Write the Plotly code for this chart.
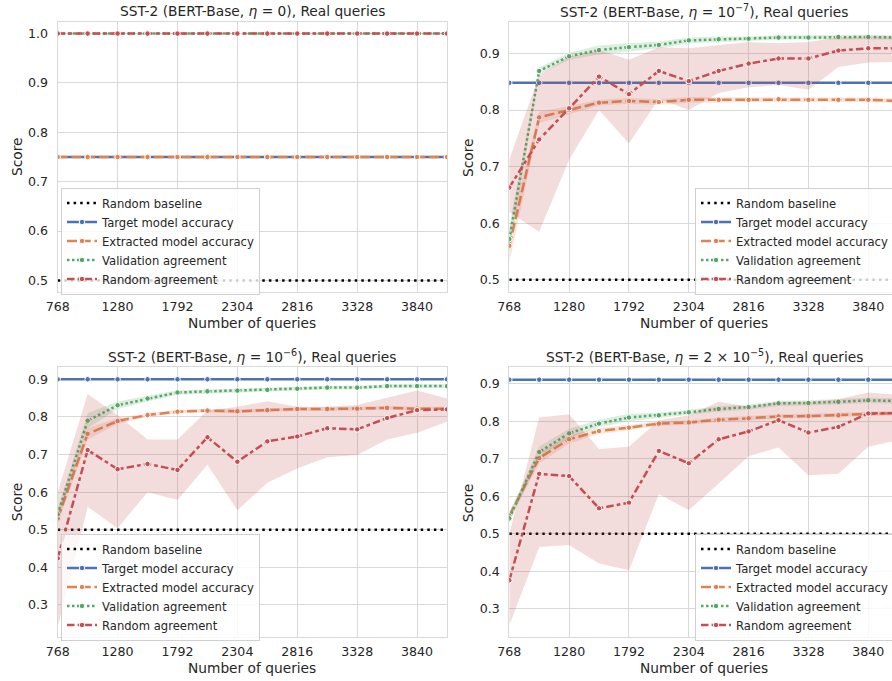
import plotly.graph_objects as go

# ---------------- data ----------------
queries = [768, 1024, 1280, 1536, 1792, 2048, 2304, 2560, 2816, 3072, 3328, 3584, 3840, 4096]
x_ticks = [768, 1280, 1792, 2304, 2816, 3328, 3840]

baseline = [0.5, 0.5, 0.5, 0.5, 0.5, 0.5, 0.5, 0.5, 0.5, 0.5, 0.5, 0.5, 0.5, 0.5]

# Panel 1: eta = 0
p1_target = [0.75, 0.75, 0.75, 0.75, 0.75, 0.75, 0.75, 0.75, 0.75, 0.75, 0.75, 0.75, 0.75, 0.75]
p1_extracted = [0.75, 0.75, 0.75, 0.75, 0.75, 0.75, 0.75, 0.75, 0.75, 0.75, 0.75, 0.75, 0.75, 0.75]
p1_valid = [1.0, 1.0, 1.0, 1.0, 1.0, 1.0, 1.0, 1.0, 1.0, 1.0, 1.0, 1.0, 1.0, 1.0]
p1_random = [1.0, 1.0, 1.0, 1.0, 1.0, 1.0, 1.0, 1.0, 1.0, 1.0, 1.0, 1.0, 1.0, 1.0]

# Panel 2: eta = 1e-7
p2_target = [0.848, 0.848, 0.848, 0.848, 0.848, 0.848, 0.848, 0.848, 0.848, 0.848, 0.848, 0.848, 0.848, 0.848]
p2_extracted = [0.560, 0.787, 0.800, 0.813, 0.816, 0.814, 0.818, 0.818, 0.818, 0.819, 0.818, 0.818, 0.818, 0.816]
p2_extracted_lo = [0.530, 0.777, 0.793, 0.808, 0.811, 0.809, 0.813, 0.813, 0.814, 0.815, 0.814, 0.814, 0.814, 0.812]
p2_extracted_hi = [0.590, 0.797, 0.807, 0.818, 0.821, 0.819, 0.823, 0.823, 0.822, 0.823, 0.822, 0.822, 0.822, 0.820]
p2_valid = [0.572, 0.869, 0.895, 0.906, 0.911, 0.915, 0.923, 0.925, 0.926, 0.928, 0.928, 0.929, 0.929, 0.928]
p2_valid_lo = [0.550, 0.863, 0.889, 0.898, 0.904, 0.909, 0.918, 0.920, 0.922, 0.924, 0.924, 0.925, 0.925, 0.924]
p2_valid_hi = [0.594, 0.875, 0.901, 0.914, 0.918, 0.921, 0.928, 0.930, 0.930, 0.932, 0.932, 0.933, 0.933, 0.932]
p2_random = [0.663, 0.748, 0.803, 0.859, 0.828, 0.869, 0.851, 0.869, 0.882, 0.891, 0.891, 0.905, 0.909, 0.909]
p2_random_lo = [0.620, 0.585, 0.712, 0.800, 0.741, 0.820, 0.800, 0.830, 0.840, 0.844, 0.836, 0.876, 0.884, 0.885]
p2_random_hi = [0.712, 0.862, 0.894, 0.906, 0.889, 0.911, 0.909, 0.915, 0.920, 0.918, 0.920, 0.928, 0.930, 0.930]

# Panel 3: eta = 1e-6
p3_target = [0.90, 0.90, 0.90, 0.90, 0.90, 0.90, 0.90, 0.90, 0.90, 0.90, 0.90, 0.90, 0.90, 0.90]
p3_extracted = [0.530, 0.755, 0.789, 0.805, 0.814, 0.817, 0.815, 0.818, 0.821, 0.821, 0.822, 0.824, 0.822, 0.822]
p3_extracted_lo = [0.515, 0.740, 0.781, 0.800, 0.809, 0.812, 0.810, 0.813, 0.816, 0.816, 0.817, 0.819, 0.817, 0.817]
p3_extracted_hi = [0.545, 0.770, 0.797, 0.810, 0.819, 0.822, 0.820, 0.823, 0.826, 0.826, 0.827, 0.829, 0.827, 0.827]
p3_valid = [0.541, 0.790, 0.831, 0.849, 0.865, 0.868, 0.870, 0.872, 0.875, 0.878, 0.878, 0.882, 0.882, 0.882]
p3_valid_lo = [0.526, 0.770, 0.821, 0.841, 0.859, 0.863, 0.865, 0.867, 0.870, 0.873, 0.873, 0.877, 0.877, 0.877]
p3_valid_hi = [0.556, 0.810, 0.841, 0.857, 0.871, 0.873, 0.875, 0.877, 0.880, 0.883, 0.883, 0.887, 0.887, 0.887]
p3_random = [0.424, 0.712, 0.661, 0.675, 0.659, 0.746, 0.681, 0.735, 0.748, 0.770, 0.767, 0.797, 0.818, 0.820]
p3_random_lo = [0.242, 0.561, 0.504, 0.600, 0.579, 0.673, 0.552, 0.625, 0.663, 0.693, 0.699, 0.740, 0.758, 0.787]
p3_random_hi = [0.600, 0.861, 0.805, 0.740, 0.740, 0.817, 0.827, 0.842, 0.827, 0.827, 0.832, 0.852, 0.870, 0.849]

# Panel 4: eta = 2e-5
p4_target = [0.911, 0.911, 0.911, 0.911, 0.911, 0.911, 0.911, 0.911, 0.911, 0.911, 0.911, 0.911, 0.911, 0.911]
p4_extracted = [0.548, 0.702, 0.752, 0.774, 0.783, 0.794, 0.797, 0.804, 0.808, 0.813, 0.814, 0.816, 0.820, 0.822]
p4_extracted_lo = [0.535, 0.688, 0.741, 0.766, 0.776, 0.788, 0.791, 0.798, 0.802, 0.807, 0.808, 0.810, 0.814, 0.816]
p4_extracted_hi = [0.561, 0.716, 0.763, 0.782, 0.790, 0.800, 0.803, 0.810, 0.814, 0.819, 0.820, 0.822, 0.826, 0.828]
p4_valid = [0.541, 0.718, 0.768, 0.794, 0.810, 0.816, 0.824, 0.833, 0.838, 0.848, 0.849, 0.852, 0.856, 0.854]
p4_valid_lo = [0.530, 0.703, 0.756, 0.784, 0.800, 0.809, 0.817, 0.826, 0.831, 0.841, 0.842, 0.845, 0.849, 0.847]
p4_valid_hi = [0.552, 0.733, 0.780, 0.804, 0.820, 0.823, 0.831, 0.840, 0.845, 0.855, 0.856, 0.859, 0.863, 0.861]
p4_random = [0.376, 0.660, 0.654, 0.568, 0.583, 0.721, 0.688, 0.752, 0.773, 0.803, 0.770, 0.785, 0.821, 0.822]
p4_random_lo = [0.256, 0.465, 0.470, 0.421, 0.403, 0.606, 0.563, 0.634, 0.707, 0.730, 0.656, 0.660, 0.732, 0.750]
p4_random_hi = [0.500, 0.810, 0.819, 0.726, 0.732, 0.803, 0.816, 0.852, 0.839, 0.852, 0.852, 0.859, 0.877, 0.870]

titles = [
    "SST-2 (BERT-Base, <i>η</i> = 0), Real queries",
    "SST-2 (BERT-Base, <i>η</i> = 10<sup>−7</sup>), Real queries",
    "SST-2 (BERT-Base, <i>η</i> = 10<sup>−6</sup>), Real queries",
    "SST-2 (BERT-Base, <i>η</i> = 2 × 10<sup>−5</sup>), Real queries",
]
series_names = ["Random baseline", "Target model accuracy", "Extracted model accuracy",
                "Validation agreement", "Random agreement"]

panels = [
    dict(target=p1_target, ext=p1_extracted, ext_band=None, val=p1_valid, val_band=None,
         rnd=p1_random, rnd_band=None, yticks=[0.5, 0.6, 0.7, 0.8, 0.9, 1.0], yrange=[0.476, 1.024]),
    dict(target=p2_target, ext=p2_extracted, ext_band=(p2_extracted_lo, p2_extracted_hi),
         val=p2_valid, val_band=(p2_valid_lo, p2_valid_hi),
         rnd=p2_random, rnd_band=(p2_random_lo, p2_random_hi),
         yticks=[0.5, 0.6, 0.7, 0.8, 0.9], yrange=[0.478, 0.956]),
    dict(target=p3_target, ext=p3_extracted, ext_band=(p3_extracted_lo, p3_extracted_hi),
         val=p3_valid, val_band=(p3_valid_lo, p3_valid_hi),
         rnd=p3_random, rnd_band=(p3_random_lo, p3_random_hi),
         yticks=[0.3, 0.4, 0.5, 0.6, 0.7, 0.8, 0.9], yrange=[0.214, 0.932]),
    dict(target=p4_target, ext=p4_extracted, ext_band=(p4_extracted_lo, p4_extracted_hi),
         val=p4_valid, val_band=(p4_valid_lo, p4_valid_hi),
         rnd=p4_random, rnd_band=(p4_random_lo, p4_random_hi),
         yticks=[0.3, 0.4, 0.5, 0.6, 0.7, 0.8, 0.9], yrange=[0.224, 0.944]),
]

# ---------------- styling ----------------
W, H = 892, 681
BLUE, ORANGE, GREEN, RED = "#4C72B0", "#DD8452", "#55A868", "#C44E52"
FILL = {ORANGE: "rgba(221,132,82,0.2)", GREEN: "rgba(85,168,104,0.2)", RED: "rgba(196,78,82,0.2)"}
TXT = "#262626"
GRID = "#d9d9d9"
LW = 2.5

# plot areas in pixels: (left, right, top, bottom)
areas = [(57.7, 447.0, 21.7, 292.3), (509.3, 892.0, 21.7, 292.3),
         (57.7, 447.0, 367.3, 637.3), (509.3, 892.0, 367.3, 637.3)]
xranges = [[768, 4096], [768, 4043], [768, 4096], [768, 4043]]
# legend box: left x, vertical centre y (pixels)
legend_pos = [(61, 241), (695, 241), (61, 587), (695, 587)]

fig = go.Figure()
layout = dict(width=W, height=H, margin=dict(l=0, r=0, t=0, b=0, autoexpand=False),
              paper_bgcolor="white", plot_bgcolor="white",
              font=dict(family="DejaVu Sans", color=TXT), showlegend=True)
annotations = []

def line_style(color, dash):
    return dict(color=color, width=LW, dash=dash)

marker = lambda c: dict(size=5.5, color=c, line=dict(color="white", width=1))

for k, p in enumerate(panels):
    ax = "" if k == 0 else str(k + 1)
    xa, ya = "x" + ax, "y" + ax
    lg = "legend" if k == 0 else "legend" + str(k + 1)

    def band(b, color):
        if b is None:
            return
        lo, hi = b
        fig.add_trace(go.Scatter(x=queries + queries[::-1], y=hi + lo[::-1], fill="toself",
                                 fillcolor=FILL[color], line=dict(width=0), mode="lines",
                                 hoverinfo="skip", showlegend=False, xaxis=xa, yaxis=ya))

    fig.add_trace(go.Scatter(x=queries, y=baseline, mode="lines", name=series_names[0],
                             line=line_style("black", "2.5px,4.1px"), xaxis=xa, yaxis=ya, legend=lg))
    fig.add_trace(go.Scatter(x=queries, y=p["target"], mode="lines+markers", name=series_names[1],
                             line=line_style(BLUE, "solid"), marker=marker(BLUE),
                             xaxis=xa, yaxis=ya, legend=lg))
    band(p["ext_band"], ORANGE)
    fig.add_trace(go.Scatter(x=queries, y=p["ext"], mode="lines+markers", name=series_names[2],
                             line=line_style(ORANGE, "10px,3.75px"), marker=marker(ORANGE),
                             xaxis=xa, yaxis=ya, legend=lg))
    band(p["val_band"], GREEN)
    fig.add_trace(go.Scatter(x=queries, y=p["val"], mode="lines+markers", name=series_names[3],
                             line=line_style(GREEN, "2.5px,2.5px"), marker=marker(GREEN),
                             xaxis=xa, yaxis=ya, legend=lg))
    band(p["rnd_band"], RED)
    fig.add_trace(go.Scatter(x=queries, y=p["rnd"], mode="lines+markers", name=series_names[4],
                             line=line_style(RED, "7.5px,3.1px,3.75px,3.1px"), marker=marker(RED),
                             xaxis=xa, yaxis=ya, legend=lg))

    l, r, t, b = areas[k]
    axis_common = dict(showgrid=True, gridcolor=GRID, gridwidth=1.2, zeroline=False,
                       showline=True, linecolor=GRID, linewidth=1.2, mirror=True, ticks="",
                       tickfont=dict(size=12.6, color=TXT, family="DejaVu Sans"))
    layout["xaxis" + ax] = dict(axis_common, domain=[l / W, r / W], range=xranges[k],
                                tickvals=x_ticks, ticktext=[str(v) for v in x_ticks],
                                anchor=ya, ticklabelstandoff=2)
    layout["yaxis" + ax] = dict(axis_common, domain=[(H - b) / H, (H - t) / H], range=p["yrange"],
                                tickvals=p["yticks"], ticktext=["%.1f" % v for v in p["yticks"]],
                                anchor=xa, ticklabelstandoff=6)
    lx, ly = legend_pos[k]
    layout[lg] = dict(x=lx / W, y=(H - ly) / H, xanchor="left", yanchor="middle",
                      bgcolor="rgba(255,255,255,0.8)", bordercolor="#d0d0d0", borderwidth=1,
                      font=dict(size=11.6, color=TXT, family="DejaVu Sans"),
                      itemwidth=30, tracegroupgap=0)

    cx = (l + r) / 2 if k % 2 == 0 else 704
    ty = 11 if k < 2 else 356
    annotations.append(dict(text=titles[k], x=cx / W, y=(H - ty) / H, xref="paper", yref="paper",
                            showarrow=False, xanchor="center", yanchor="middle",
                            font=dict(size=13.75, color=TXT, family="DejaVu Sans")))
    xl_y = 322.7 if k < 2 else 668
    annotations.append(dict(text="Number of queries", x=cx / W, y=(H - xl_y) / H, xref="paper",
                            yref="paper", showarrow=False, xanchor="center", yanchor="middle",
                            font=dict(size=13.75, color=TXT, family="DejaVu Sans")))
    sx = 17 if k % 2 == 0 else 468
    annotations.append(dict(text="Score", x=sx / W, y=(H - (t + b) / 2) / H, xref="paper",
                            yref="paper", showarrow=False, textangle=-90, xanchor="center",
                            yanchor="middle", font=dict(size=13.75, color=TXT, family="DejaVu Sans")))

layout["annotations"] = annotations
fig.update_layout(**layout)
fig.write_html("out.html", config={"displayModeBar": False},
               post_script="document.body.style.margin='0px';document.body.style.overflow='hidden';")
